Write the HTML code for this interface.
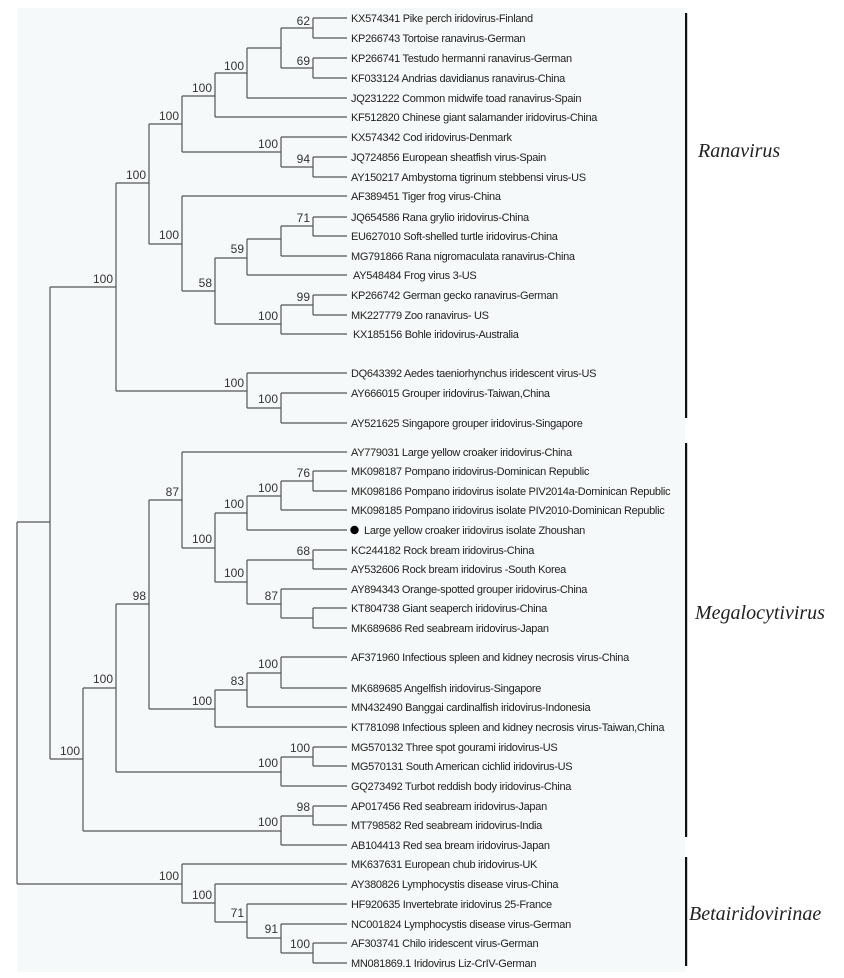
<!DOCTYPE html>
<html><head><meta charset="utf-8"><style>
html,body{margin:0;padding:0;background:#fff;}
svg{display:block;}
.t{font-family:"Liberation Sans",sans-serif;font-size:11px;fill:#222;letter-spacing:-0.3px;}
.b{font-family:"Liberation Sans",sans-serif;font-size:12px;fill:#333;text-anchor:end;}
.g{font-family:"Liberation Serif",serif;font-style:italic;font-size:20px;fill:#222;}
</style></head><body>
<svg width="844" height="978" viewBox="0 0 844 978" xmlns="http://www.w3.org/2000/svg">
<rect x="17" y="8" width="668" height="964" fill="#f6f9f9"/>
<g stroke="#555" stroke-width="1.2" fill="none">
<!-- leaves -->
<path d="M313 18H347M313 38H347M313 58H347M313 78H347M247 98H347M215 117H347M281 137H347M313 157H347M313 177H347M182 196H347M313 217H347M313 236H347M281 256H347M247 275H347M313 295H347M313 315H347M281 334H347M247 373H347M281 393H347M281 423H347"/>
<path d="M182 452H347M313 471H347M313 491H347M281 510H347M247 530H347M313 550H347M313 569H347M281 589H347M313 608H347M313 628H347M281 657H347M281 688H347M247 707H347M215 727H347M313 747H347M313 766H347M281 786H347M313 806H347M313 825H347M281 845H347"/>
<path d="M182 864H347M215 884H347M247 904H347M281 924H347M313 943H347M313 963H347"/>
<!-- ranavirus internal -->
<path d="M313 18V38M281 28H313M313 58V78M281 68H313M281 28V68M247 48H281M247 48V98M215 73H247M215 73V117M182 96H215"/>
<path d="M313 157V177M281 167H313M281 137V167M182 152H281M182 96V152M149 124H182"/>
<path d="M313 217V236M281 226H313M281 226V256M247 239H281M247 239V275M215 258H247M313 295V315M281 305H313M281 305V334M215 324H281M215 258V324M182 291H215M182 196V291M149 244H182M149 124V244M116 183H149"/>
<path d="M281 393V423M247 408H281M247 373V408M116 391H247M116 183V391M50 287H116"/>
<!-- megalo -->
<path d="M313 471V491M281 481H313M281 481V510M247 496H281M247 496V530M215 513H247M313 550V569M247 560H313M313 608V628M281 618H313M281 589V618M247 604H281M247 560V604M215 582H247M215 513V582M182 548H215M182 452V548M149 500H182"/>
<path d="M281 657V688M247 673H281M247 673V707M215 690H247M215 690V727M149 709H215M149 500V709M116 604H149"/>
<path d="M313 747V766M281 757H313M281 757V786M116 772H281M116 604V772M83 688H116"/>
<path d="M313 806V825M281 816H313M281 816V845M83 831H281M83 688V831M50 759H83M50 287V759M17 522H50"/>
<!-- beta -->
<path d="M313 943V963M281 953H313M281 924V953M247 938H281M247 904V938M215 922H247M215 884V922M182 903H215M182 864V903M17 884H182M17 522V884"/>
</g>
<!-- bootstrap labels -->
<g class="b">
<text x="310" y="25">62</text><text x="310" y="65">69</text>
<text x="244" y="70">100</text><text x="212" y="92">100</text><text x="179" y="120">100</text>
<text x="278" y="148">100</text><text x="310" y="163">94</text><text x="146" y="179">100</text>
<text x="310" y="222">71</text><text x="244" y="253">59</text><text x="212" y="287">58</text>
<text x="310" y="301">99</text><text x="278" y="320">100</text><text x="179" y="239">100</text>
<text x="113" y="283">100</text><text x="244" y="387">100</text><text x="278" y="403">100</text>
<text x="310" y="477">76</text><text x="278" y="492">100</text><text x="244" y="508">100</text>
<text x="212" y="543">100</text><text x="179" y="496">87</text><text x="310" y="555">68</text>
<text x="244" y="577">100</text><text x="278" y="600">87</text><text x="146" y="600">98</text>
<text x="278" y="668">100</text><text x="244" y="685">83</text><text x="212" y="705">100</text>
<text x="113" y="683">100</text><text x="278" y="767">100</text><text x="310" y="752">100</text>
<text x="80" y="755">100</text><text x="310" y="811">98</text><text x="278" y="826">100</text>
<text x="179" y="880">100</text><text x="212" y="899">100</text><text x="244" y="917">71</text>
<text x="278" y="933">91</text><text x="310" y="948">100</text>
</g>
<!-- leaf labels -->
<g class="t">
<text x="351" y="22">KX574341 Pike perch iridovirus-Finland</text>
<text x="351" y="42">KP266743 Tortoise ranavirus-German</text>
<text x="351" y="62">KP266741 Testudo hermanni ranavirus-German</text>
<text x="351" y="82">KF033124 Andrias davidianus ranavirus-China</text>
<text x="351" y="102">JQ231222 Common midwife toad ranavirus-Spain</text>
<text x="351" y="121">KF512820 Chinese giant salamander iridovirus-China</text>
<text x="351" y="141">KX574342 Cod iridovirus-Denmark</text>
<text x="351" y="161">JQ724856 European sheatfish virus-Spain</text>
<text x="351" y="181">AY150217 Ambystoma tigrinum stebbensi virus-US</text>
<text x="351" y="200">AF389451 Tiger frog virus-China</text>
<text x="351" y="221">JQ654586 Rana grylio iridovirus-China</text>
<text x="351" y="240">EU627010 Soft-shelled turtle iridovirus-China</text>
<text x="351" y="260">MG791866 Rana nigromaculata ranavirus-China</text>
<text x="353" y="279">AY548484 Frog virus 3-US</text>
<text x="351" y="299">KP266742 German gecko ranavirus-German</text>
<text x="351" y="319">MK227779 Zoo ranavirus- US</text>
<text x="353" y="338">KX185156 Bohle iridovirus-Australia</text>
<text x="351" y="377">DQ643392 Aedes taeniorhynchus iridescent virus-US</text>
<text x="351" y="397">AY666015 Grouper iridovirus-Taiwan,China</text>
<text x="351" y="427">AY521625 Singapore grouper iridovirus-Singapore</text>
<text x="351" y="456">AY779031 Large yellow croaker iridovirus-China</text>
<text x="351" y="475">MK098187 Pompano iridovirus-Dominican Republic</text>
<text x="351" y="495">MK098186 Pompano iridovirus isolate PIV2014a-Dominican Republic</text>
<text x="351" y="514">MK098185 Pompano iridovirus isolate PIV2010-Dominican Republic</text>
<text x="364" y="534">Large yellow croaker iridovirus isolate Zhoushan</text>
<text x="351" y="554">KC244182 Rock bream iridovirus-China</text>
<text x="351" y="573">AY532606 Rock bream iridovirus -South Korea</text>
<text x="351" y="593">AY894343 Orange-spotted grouper iridovirus-China</text>
<text x="351" y="612">KT804738 Giant seaperch iridovirus-China</text>
<text x="351" y="632">MK689686 Red seabream iridovirus-Japan</text>
<text x="351" y="661">AF371960 Infectious spleen and kidney necrosis virus-China</text>
<text x="351" y="692">MK689685 Angelfish iridovirus-Singapore</text>
<text x="351" y="711">MN432490 Banggai cardinalfish iridovirus-Indonesia</text>
<text x="351" y="731">KT781098 Infectious spleen and kidney necrosis virus-Taiwan,China</text>
<text x="351" y="751">MG570132 Three spot gourami iridovirus-US</text>
<text x="351" y="770">MG570131 South American cichlid iridovirus-US</text>
<text x="351" y="790">GQ273492 Turbot reddish body iridovirus-China</text>
<text x="351" y="810">AP017456 Red seabream iridovirus-Japan</text>
<text x="351" y="829">MT798582 Red seabream iridovirus-India</text>
<text x="351" y="849">AB104413 Red sea bream iridovirus-Japan</text>
<text x="351" y="868">MK637631 European chub iridovirus-UK</text>
<text x="351" y="888">AY380826 Lymphocystis disease virus-China</text>
<text x="351" y="908">HF920635 Invertebrate iridovirus 25-France</text>
<text x="351" y="928">NC001824 Lymphocystis disease virus-German</text>
<text x="351" y="947">AF303741 Chilo iridescent virus-German</text>
<text x="351" y="967">MN081869.1 Iridovirus Liz-CrIV-German</text>
</g>
<circle cx="354.5" cy="530" r="4.2" fill="#000"/>
<!-- clade bars -->
<rect x="685" y="13" width="2.2" height="405" fill="#111"/>
<rect x="685" y="443" width="2.2" height="394" fill="#111"/>
<rect x="685" y="857" width="2.2" height="109" fill="#111"/>
<text class="g" x="698" y="157">Ranavirus</text>
<text class="g" x="695" y="619">Megalocytivirus</text>
<text class="g" x="689" y="920">Betairidovirinae</text>
</svg>
</body></html>
